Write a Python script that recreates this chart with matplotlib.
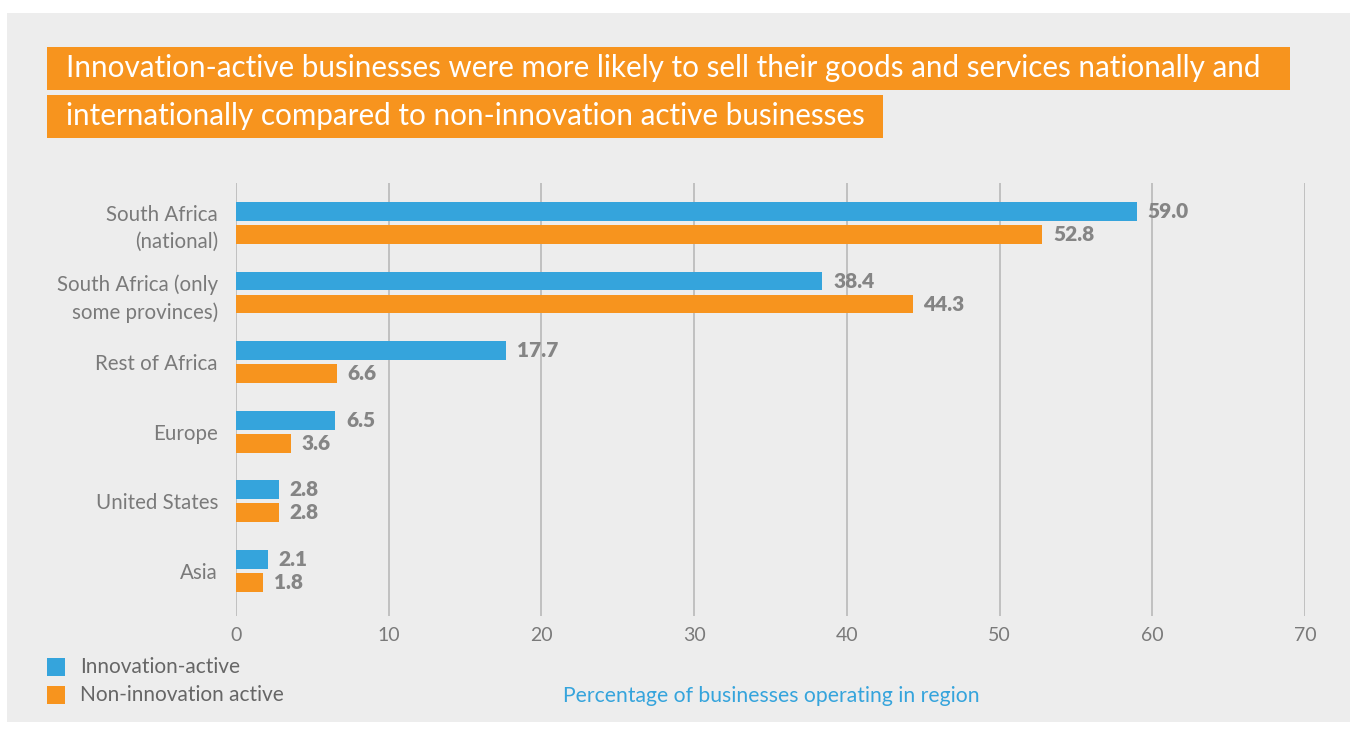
import matplotlib.pyplot as plt
from matplotlib.patches import Rectangle
import numpy as np

regions = ['South Africa\n(national)', 'South Africa (only\nsome provinces)',
           'Rest of Africa', 'Europe', 'United States', 'Asia']
innovation_active = [59.0, 38.4, 17.7, 6.5, 2.8, 2.1]
non_innovation = [52.8, 44.3, 6.6, 3.6, 2.8, 1.8]
x_ticks = [0, 10, 20, 30, 40, 50, 60, 70]

BLUE = '#35a4dc'
ORANGE = '#f7941e'
BG = '#ededed'
GREY_TXT = '#7a7a7a'
VAL_TXT = '#858585'

W, H = 1358, 729
fig = plt.figure(figsize=(W / 100, H / 100), dpi=100, facecolor='white')

# grey panel behind everything
fig.patches.append(Rectangle((7 / W, 1 - 722 / H), (1350 - 7) / W, (722 - 13) / H,
                             transform=fig.transFigure, facecolor=BG,
                             edgecolor='none', zorder=-2))

# title in two orange boxes
title_lines = ['Innovation-active businesses were more likely to sell their goods and services nationally and',
               'internationally compared to non-innovation active businesses']
boxes = [(47, 47, 1290, 90), (47, 95, 883, 138)]
for line, (x0, y0, x1, y1) in zip(title_lines, boxes):
    fig.patches.append(Rectangle((x0 / W, 1 - y1 / H), (x1 - x0) / W, (y1 - y0) / H,
                                 transform=fig.transFigure, facecolor=ORANGE,
                                 edgecolor='none', zorder=1))
    fig.text(66 / W, 1 - (y0 + y1) / 2 / H, line, color='white', fontsize=21.3,
             family='Lato', ha='left', va='center', zorder=2)

ax = fig.add_axes([236 / W, 1 - 616 / H, (1305 - 236) / W, (616 - 183) / H])
ax.set_facecolor('none')
ax.set_zorder(3)

y = np.arange(len(regions))
h = 0.27
off = 0.165
ax.barh(y - off, innovation_active, height=h, color=BLUE, zorder=3)
ax.barh(y + off, non_innovation, height=h, color=ORANGE, zorder=3)

for yi, v in zip(y - off, innovation_active):
    ax.text(v + 0.7, yi, f'{v:.1f}', va='center', ha='left', fontsize=15,
            fontweight='heavy', color=VAL_TXT, family='Lato', zorder=4)
for yi, v in zip(y + off, non_innovation):
    ax.text(v + 0.7, yi, f'{v:.1f}', va='center', ha='left', fontsize=15,
            fontweight='heavy', color=VAL_TXT, family='Lato', zorder=4)

ax.set_xlim(0, 70)
ax.set_ylim(5.65, -0.575)
ax.set_xticks(x_ticks)
ax.xaxis.grid(True, color='#bdbdbd', linewidth=1.3, zorder=1)
ax.set_axisbelow(True)
for s in ax.spines.values():
    s.set_visible(False)
ax.tick_params(axis='both', length=0, labelcolor=GREY_TXT)
ax.tick_params(axis='x', pad=8, labelsize=14)
ax.tick_params(axis='y', pad=13, labelsize=14.8)
ax.set_yticks(y)
ax.set_yticklabels(regions, ha='right', family='Lato', linespacing=1.45)
for t in ax.get_xticklabels():
    t.set_family('Lato')

# legend
for i, (lab, col) in enumerate([('Innovation-active', BLUE), ('Non-innovation active', ORANGE)]):
    yc = 667 + 28 * i
    fig.patches.append(Rectangle((47 / W, 1 - (yc + 9) / H), 18 / W, 18 / H,
                                 transform=fig.transFigure, facecolor=col,
                                 edgecolor='none', zorder=2))
    fig.text(80 / W, 1 - yc / H, lab, color='#666666', fontsize=15, family='Lato',
             ha='left', va='center')

fig.text(771 / W, 1 - 696 / H, 'Percentage of businesses operating in region',
         color=BLUE, fontsize=15.2, family='Lato', ha='center', va='center')

fig.savefig('out.png', dpi=100, facecolor='white')
